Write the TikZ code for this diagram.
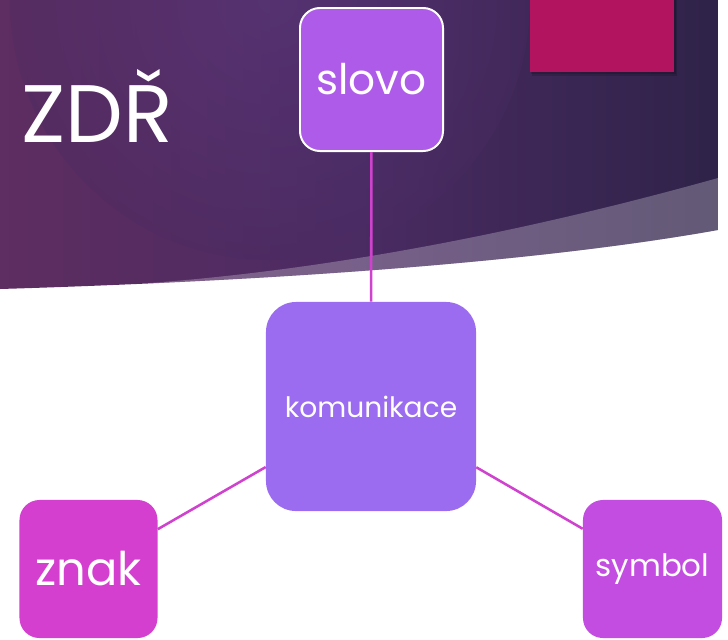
\documentclass[tikz,border=0pt]{standalone}
\usepackage{fontspec}
\setmainfont{Poppins}
\usetikzlibrary{positioning}

\definecolor{bgLeft}{HTML}{5E2D61}
\definecolor{bgMid}{HTML}{4A2B62}
\definecolor{bgRight}{HTML}{2F2349}
\definecolor{accent}{HTML}{B2145F}
\definecolor{slovoC}{HTML}{AE5BE9}
\definecolor{komC}{HTML}{9B6CF0}
\definecolor{znakC}{HTML}{D43FD0}
\definecolor{symbolC}{HTML}{C24DE0}
\definecolor{linkC}{HTML}{CF42CE}

\tikzset{
  box/.style={rounded corners=0.5cm, text=white, inner sep=0pt, align=center},
  link/.style={draw=linkC, line width=1.8pt}
}

\begin{document}
\begin{tikzpicture}[x=0.025cm, y=-0.025cm]
\useasboundingbox (0,0) rectangle (728,639);

% title band
\begin{scope}
\clip (0,0) -- (718,0) -- (718,230) .. controls (550,260) and (300,280) .. (0,289) -- cycle;
\shade[left color=bgLeft, right color=bgRight, middle color=bgMid] (0,0) rectangle (718,300);
\shade[inner color=bgMid!70!komC, outer color=bgMid, opacity=0.35] (270,0) circle (260);
\fill[white, opacity=0.25] (718,178) .. controls (550,225) and (350,268) .. (150,283) -- (150,320) -- (718,320) -- cycle;
\end{scope}

% corner tab
\fill[black, opacity=0.15] (532,0) rectangle (677,76);
\fill[black, opacity=0.15] (531,0) rectangle (676,74);
\fill[accent] (530,0) rectangle (674,72);

\node[anchor=base west, inner sep=0pt, text=white, font=\fontsize{58}{60}\selectfont] (title) at (21,142) {ZDŘ};

\node[box, fill=slovoC, draw=white, line width=1.4pt, minimum width=3.575cm, minimum height=3.575cm, font=\fontsize{30}{32}\selectfont] (slovo) at (371.5,79.5) {slovo};
\node[box, fill=komC, rounded corners=0.75cm, minimum width=5.25cm, minimum height=5.225cm, font=\fontsize{20}{22}\selectfont] (kom) at (371,406.5) {komunikace};
\node[box, fill=znakC, minimum width=3.45cm, minimum height=3.45cm, font=\fontsize{33}{35}\selectfont] (znak) at (88.5,569) {znak};
\node[box, fill=symbolC, minimum width=3.475cm, minimum height=3.45cm, font=\fontsize{22}{24}\selectfont] (symbol) at (652.5,569) {symbol};

\draw[link] (slovo) -- (kom);
\draw[link] (kom) -- (znak);
\draw[link] (kom) -- (symbol);

\end{tikzpicture}
\end{document}
